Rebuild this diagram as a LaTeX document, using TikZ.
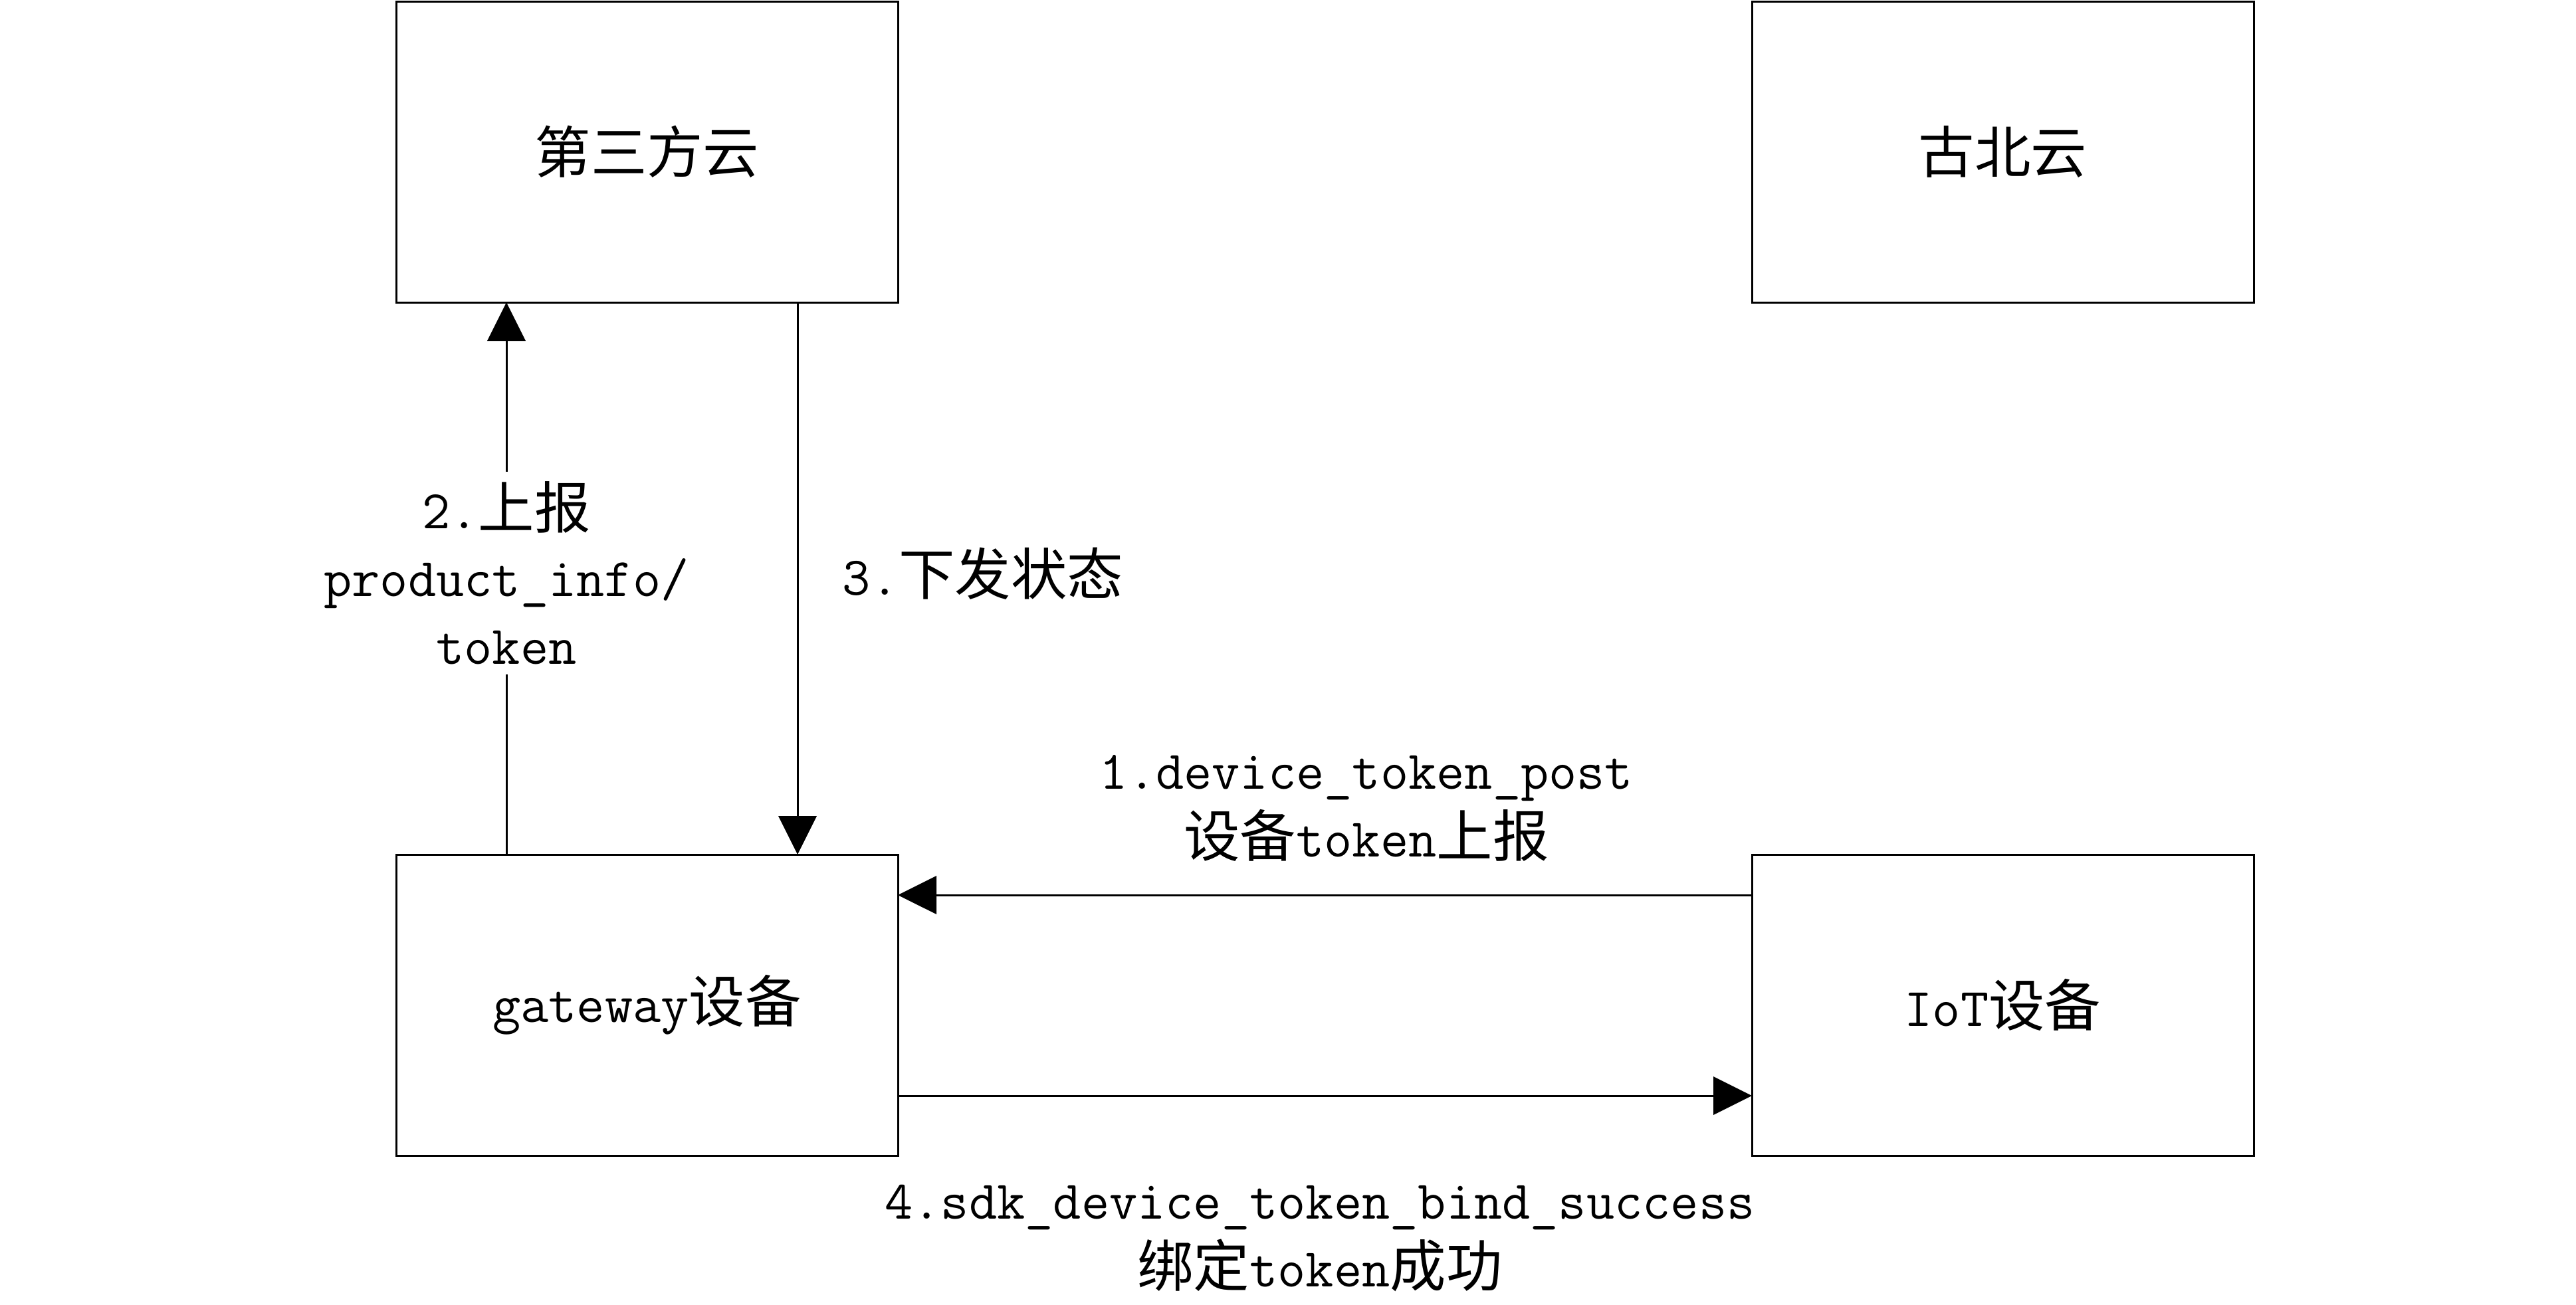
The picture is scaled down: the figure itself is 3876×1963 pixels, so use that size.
\documentclass[tikz,border=0pt]{standalone}
\usepackage{fontspec}
\usetikzlibrary{arrows.meta}
\newfontfamily\cjk[Scale=1.03]{Noto Sans CJK SC}
\newcommand\zh[1]{{\cjk #1}}

\begin{document}
\begin{tikzpicture}[x=0.25pt,y=0.25pt,yscale=-1,xscale=1,
  txt/.style={font=\ttfamily\fontsize{20.5}{25.5}\selectfont},
  box/.style={txt,draw,line width=0.75pt,minimum width=188.75pt,minimum height=113.25pt,inner sep=0pt,outer sep=0pt},
  lbl/.style={txt,align=center,inner sep=0pt},
  arr/.style={line width=0.75pt,-{Triangle[length=14.5pt,width=14.3pt]}}]
\useasboundingbox (0,0) rectangle (3876,1963);

%Shape: Rectangle [id:cloud3]
\node[box] (cloud3) at (973.5,228.5) {\zh{第三方云}};
%Shape: Rectangle [id:gubei]
\node[box] (gubei) at (3013.5,228.5) {\zh{古北云}};
%Shape: Rectangle [id:gw]
\node[box] (gw) at (973.5,1512.5) {gateway\zh{设备}};
%Shape: Rectangle [id:iot]
\node[box] (iot) at (3013.5,1512.5) {IoT\zh{设备}};

% Text Node
\node[lbl,inner ysep=3.5pt] (up2) at (762,862) {2.\zh{上报}\\product\_info/\\token};
% Text Node
\node[lbl,anchor=base west] (down3) at (1267,895) {3.\zh{下发状态}};
% Text Node
\node[lbl] (post1) at (2056,1216) {1.device\_token\_post\\\zh{设备}token\zh{上报}};
% Text Node
\node[lbl] (bind4) at (1986,1864) {4.sdk\_device\_token\_bind\_success\\\zh{绑定}token\zh{成功}};

\coordinate (a3) at (1200,0);
\coordinate (a1) at (0,1347);
\coordinate (a4) at (0,1649);

%Straight Lines [id:up2]
\draw[line width=0.75pt] (gw.north -| up2) -- (up2.south);
\draw[arr] (up2.north) -- (cloud3.south -| up2);
%Straight Lines [id:down3]
\draw[arr] (cloud3.south -| a3) -- (gw.north -| a3);
%Straight Lines [id:post1]
\draw[arr] (iot.west |- a1) -- (gw.east |- a1);
%Straight Lines [id:bind4]
\draw[arr] (gw.east |- a4) -- (iot.west |- a4);

\end{tikzpicture}
\end{document}
